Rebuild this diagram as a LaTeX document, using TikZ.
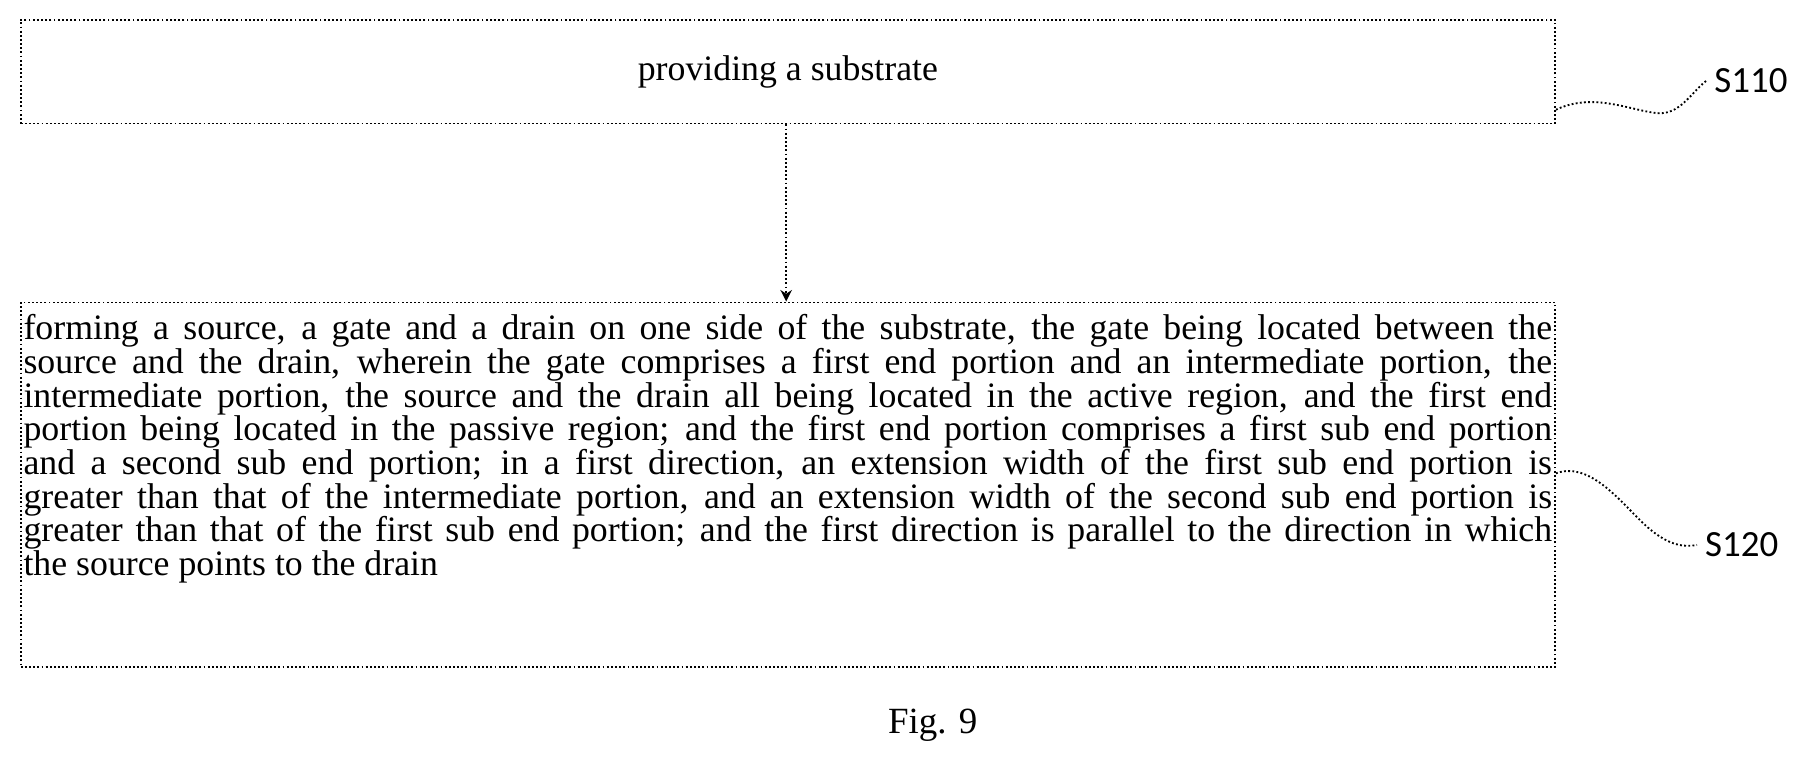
\documentclass[tikz,border=0pt]{standalone}
\usepackage{fontspec}
\setmainfont{Liberation Serif}
\newfontfamily\lblfont{Carlito}
\usetikzlibrary{arrows.meta}
\begin{document}
\begin{tikzpicture}[x=0.5pt,y=-0.5pt,
  box/.style={draw, densely dotted, line width=0.8pt, inner sep=0pt},
  lbl/.style={font=\lblfont\fontsize{16}{18}\selectfont, anchor=west},
  sq/.style={densely dotted, line width=0.8pt}]
\useasboundingbox (0,0) rectangle (1567,656);
\node[box, minimum width=664.5pt, minimum height=45pt] (b1) at (682.5,62) {};
\node[font=\fontsize{15.5}{17}\selectfont] (t1) at (682.5,62) {providing a substrate};
\node[box, minimum width=664.5pt, minimum height=158pt] (b2) at (682.5,420) {};
\node[align=justify, text width=662pt, font=\fontsize{15.5}{14.6}\selectfont, anchor=north west, inner sep=0pt] (t2) at (20,272) {forming a source, a gate and a drain on one side of the substrate, the gate being located between the\linebreak source and the drain, wherein the gate comprises a first end portion and an intermediate portion, the\linebreak intermediate portion, the source and the drain all being located in the active region, and the first end\linebreak portion being located in the passive region; and the first end portion comprises a first sub end portion\linebreak and a second sub end portion; in a first direction, an extension width of the first sub end portion is\linebreak greater than that of the intermediate portion, and an extension width of the second sub end portion is\linebreak greater than that of the first sub end portion; and the first direction is parallel to the direction in which\linebreak the source points to the drain};
\draw[densely dotted, line width=0.8pt, -{Stealth[length=5pt,width=5pt]}] (b1.south -| 681,0) -- (b2.north -| 681,0);
\node[lbl] (s110) at (1478,70) {S110};
\node[lbl] (s120) at (1470,472) {S120};
\coordinate (c1) at (b1.east |- 0,95);
\coordinate (c2) at (b2.east |- 0,410);
\draw[sq] (c1) .. controls (1380,80) and (1410,95) .. (1435,98) .. controls (1455,100) and (1465,80) .. (s110.west);
\draw[sq] (c2) .. controls (1375,400) and (1400,430) .. (1420,450) .. controls (1440,470) and (1455,475) .. (s120.west);
\node[font=\fontsize{16}{18}\selectfont] (fig) at (808,628) {Fig. 9};
\end{tikzpicture}
\end{document}
